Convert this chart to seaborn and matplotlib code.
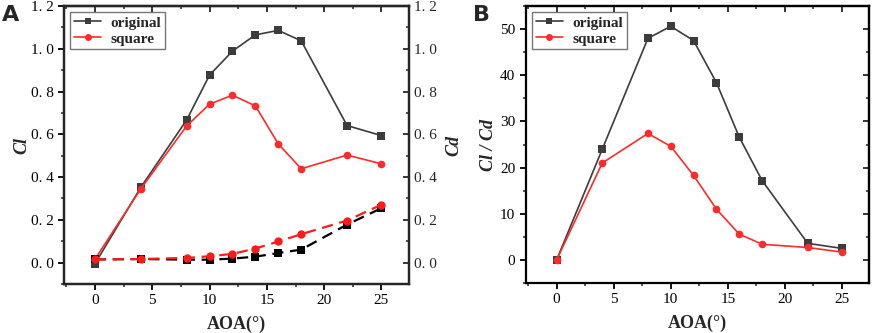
import numpy as np
import pandas as pd
import seaborn as sns
import matplotlib.pyplot as plt
from matplotlib.ticker import MultipleLocator, FuncFormatter, NullFormatter
from matplotlib.lines import Line2D

sns.set_style('ticks')
plt.rcParams['font.family'] = ['Liberation Serif', 'DejaVu Serif']

aoa = [0, 4, 8, 10, 12, 14, 16, 18, 22, 25]

# panel A: lift (left axis) and drag (right axis)
cl_original = [-0.005, 0.352, 0.667, 0.877, 0.989, 1.065, 1.086, 1.037, 0.641, 0.594]
cl_square = [0.016, 0.345, 0.639, 0.741, 0.783, 0.733, 0.555, 0.439, 0.503, 0.462]
cd_original = [0.015, 0.017, 0.014, 0.014, 0.019, 0.028, 0.045, 0.061, 0.178, 0.255]
cd_square = [0.015, 0.017, 0.022, 0.030, 0.041, 0.066, 0.099, 0.133, 0.197, 0.271]

# panel B: lift / drag ratio
clcd_original = [0.0, 24.0, 48.0, 50.6, 47.5, 38.4, 26.6, 17.2, 3.6, 2.5]
clcd_square = [0.0, 21.0, 27.4, 24.6, 18.3, 11.0, 5.6, 3.4, 2.7, 1.7]

GREY = '#3c3c3c'
RED = '#ff2a2a'

fig = plt.figure(figsize=(8.72, 3.33), dpi=100)
axA = fig.add_axes([0.0734, 0.147, 0.3956, 0.835])
axB = fig.add_axes([0.603, 0.150, 0.394, 0.832])

label_font = dict(family='Liberation Serif', size=13, weight='bold')
ital_font = dict(family='Liberation Serif', size=13, weight='bold', style='italic')


def style_axes(ax, ylim, ymajor, yminor, fmt=None):
    ax.set_xlim(-2.7, 27.4)
    ax.set_ylim(*ylim)
    ax.xaxis.set_major_locator(MultipleLocator(5))
    ax.xaxis.set_minor_locator(MultipleLocator(2.5))
    ax.yaxis.set_major_locator(MultipleLocator(ymajor))
    ax.yaxis.set_minor_locator(MultipleLocator(yminor))
    if fmt is not None:
        ax.yaxis.set_major_formatter(fmt)
    for s in ax.spines.values():
        s.set_visible(True)
        s.set_linewidth(1.6)
        s.set_color('black')
    ax.tick_params(axis='both', which='major', direction='out', length=4, width=1.3,
                   labelsize=11, colors='black')
    ax.tick_params(axis='both', which='minor', direction='out', length=2.5, width=1.1)
    for lab in ax.get_xticklabels() + ax.get_yticklabels():
        lab.set_fontfamily('Liberation Serif')
    ax.set_xlabel('AOA(°)', fontdict=label_font, labelpad=6)
    # inward ticks along the top edge
    top = ax.secondary_xaxis('top')
    top.xaxis.set_major_locator(MultipleLocator(5))
    top.xaxis.set_minor_locator(MultipleLocator(2.5))
    top.xaxis.set_major_formatter(NullFormatter())
    top.tick_params(which='major', direction='in', length=4, width=1.3)
    top.tick_params(which='minor', direction='in', length=2.5, width=1.1)
    top.spines['top'].set_linewidth(1.6)


def draw(ax, y, color, marker, ls='-', lw=1.2, ms=5.5):
    d = pd.DataFrame({'aoa': aoa, 'val': y})
    sns.lineplot(data=d, x='aoa', y='val', ax=ax, color=color, marker=marker,
                 linestyle=ls, linewidth=lw, markersize=ms, markeredgewidth=0,
                 legend=False)


fmt_spaced = FuncFormatter(lambda v, p: f'{v:.1f}'.replace('.', '. '))

# ---- panel A
draw(axA, cl_original, GREY, 's')
draw(axA, cl_square, RED, 'o')
style_axes(axA, (-0.1, 1.2), 0.2, 0.1, fmt_spaced)
axA.set_ylabel('Cl', fontdict=ital_font, labelpad=0)

axA2 = axA.twinx()
draw(axA2, cd_original, 'black', 's', ls=(0, (5, 3)), lw=1.6, ms=5.5)
draw(axA2, cd_square, '#ff1a1a', 'o', ls=(0, (5, 3)), lw=1.6, ms=6)
axA2.set_ylim(-0.1, 1.2)
axA2.yaxis.set_major_locator(MultipleLocator(0.2))
axA2.yaxis.set_minor_locator(MultipleLocator(0.1))
axA2.yaxis.set_major_formatter(fmt_spaced)
axA2.tick_params(axis='y', which='major', direction='in', length=4, width=1.3, labelsize=11)
axA2.tick_params(axis='y', which='minor', direction='in', length=2.5, width=1.1)
for lab in axA2.get_yticklabels():
    lab.set_fontfamily('Liberation Serif')
axA2.set_ylabel('Cd', fontdict=ital_font, labelpad=6)
for s in axA2.spines.values():
    s.set_linewidth(1.6)

# ---- panel B
draw(axB, clcd_original, GREY, 's')
draw(axB, clcd_square, RED, 'o')
style_axes(axB, (-5, 55), 10, 5)
axB.set_ylabel('Cl / Cd', fontdict=ital_font, labelpad=2)
right = axB.secondary_yaxis('right')
right.yaxis.set_major_locator(MultipleLocator(10))
right.yaxis.set_minor_locator(MultipleLocator(5))
right.yaxis.set_major_formatter(NullFormatter())
right.tick_params(which='major', direction='in', length=4, width=1.3)
right.tick_params(which='minor', direction='in', length=2.5, width=1.1)
right.spines['right'].set_linewidth(1.6)

# legends
handles = [Line2D([], [], color=GREY, marker='s', lw=1.2, ms=5, mew=0),
           Line2D([], [], color=RED, marker='o', lw=1.2, ms=5, mew=0)]
for ax in (axA, axB):
    leg = ax.legend(handles, ['original', 'square'], loc='upper left',
                    bbox_to_anchor=(0.0, 1.0), borderaxespad=0.4,
                    prop=dict(family='Liberation Serif', size=11, weight='bold'),
                    frameon=True, fancybox=False, edgecolor='#555555',
                    handlelength=1.8, handletextpad=0.6, labelspacing=0.15,
                    borderpad=0.25)
    leg.get_frame().set_linewidth(1.0)

fig.text(0.002, 0.985, 'A', fontsize=16, fontweight='bold', family='DejaVu Sans', va='top')
fig.text(0.543, 0.985, 'B', fontsize=16, fontweight='bold', family='DejaVu Sans', va='top')

fig.savefig('out.png', dpi=100)
